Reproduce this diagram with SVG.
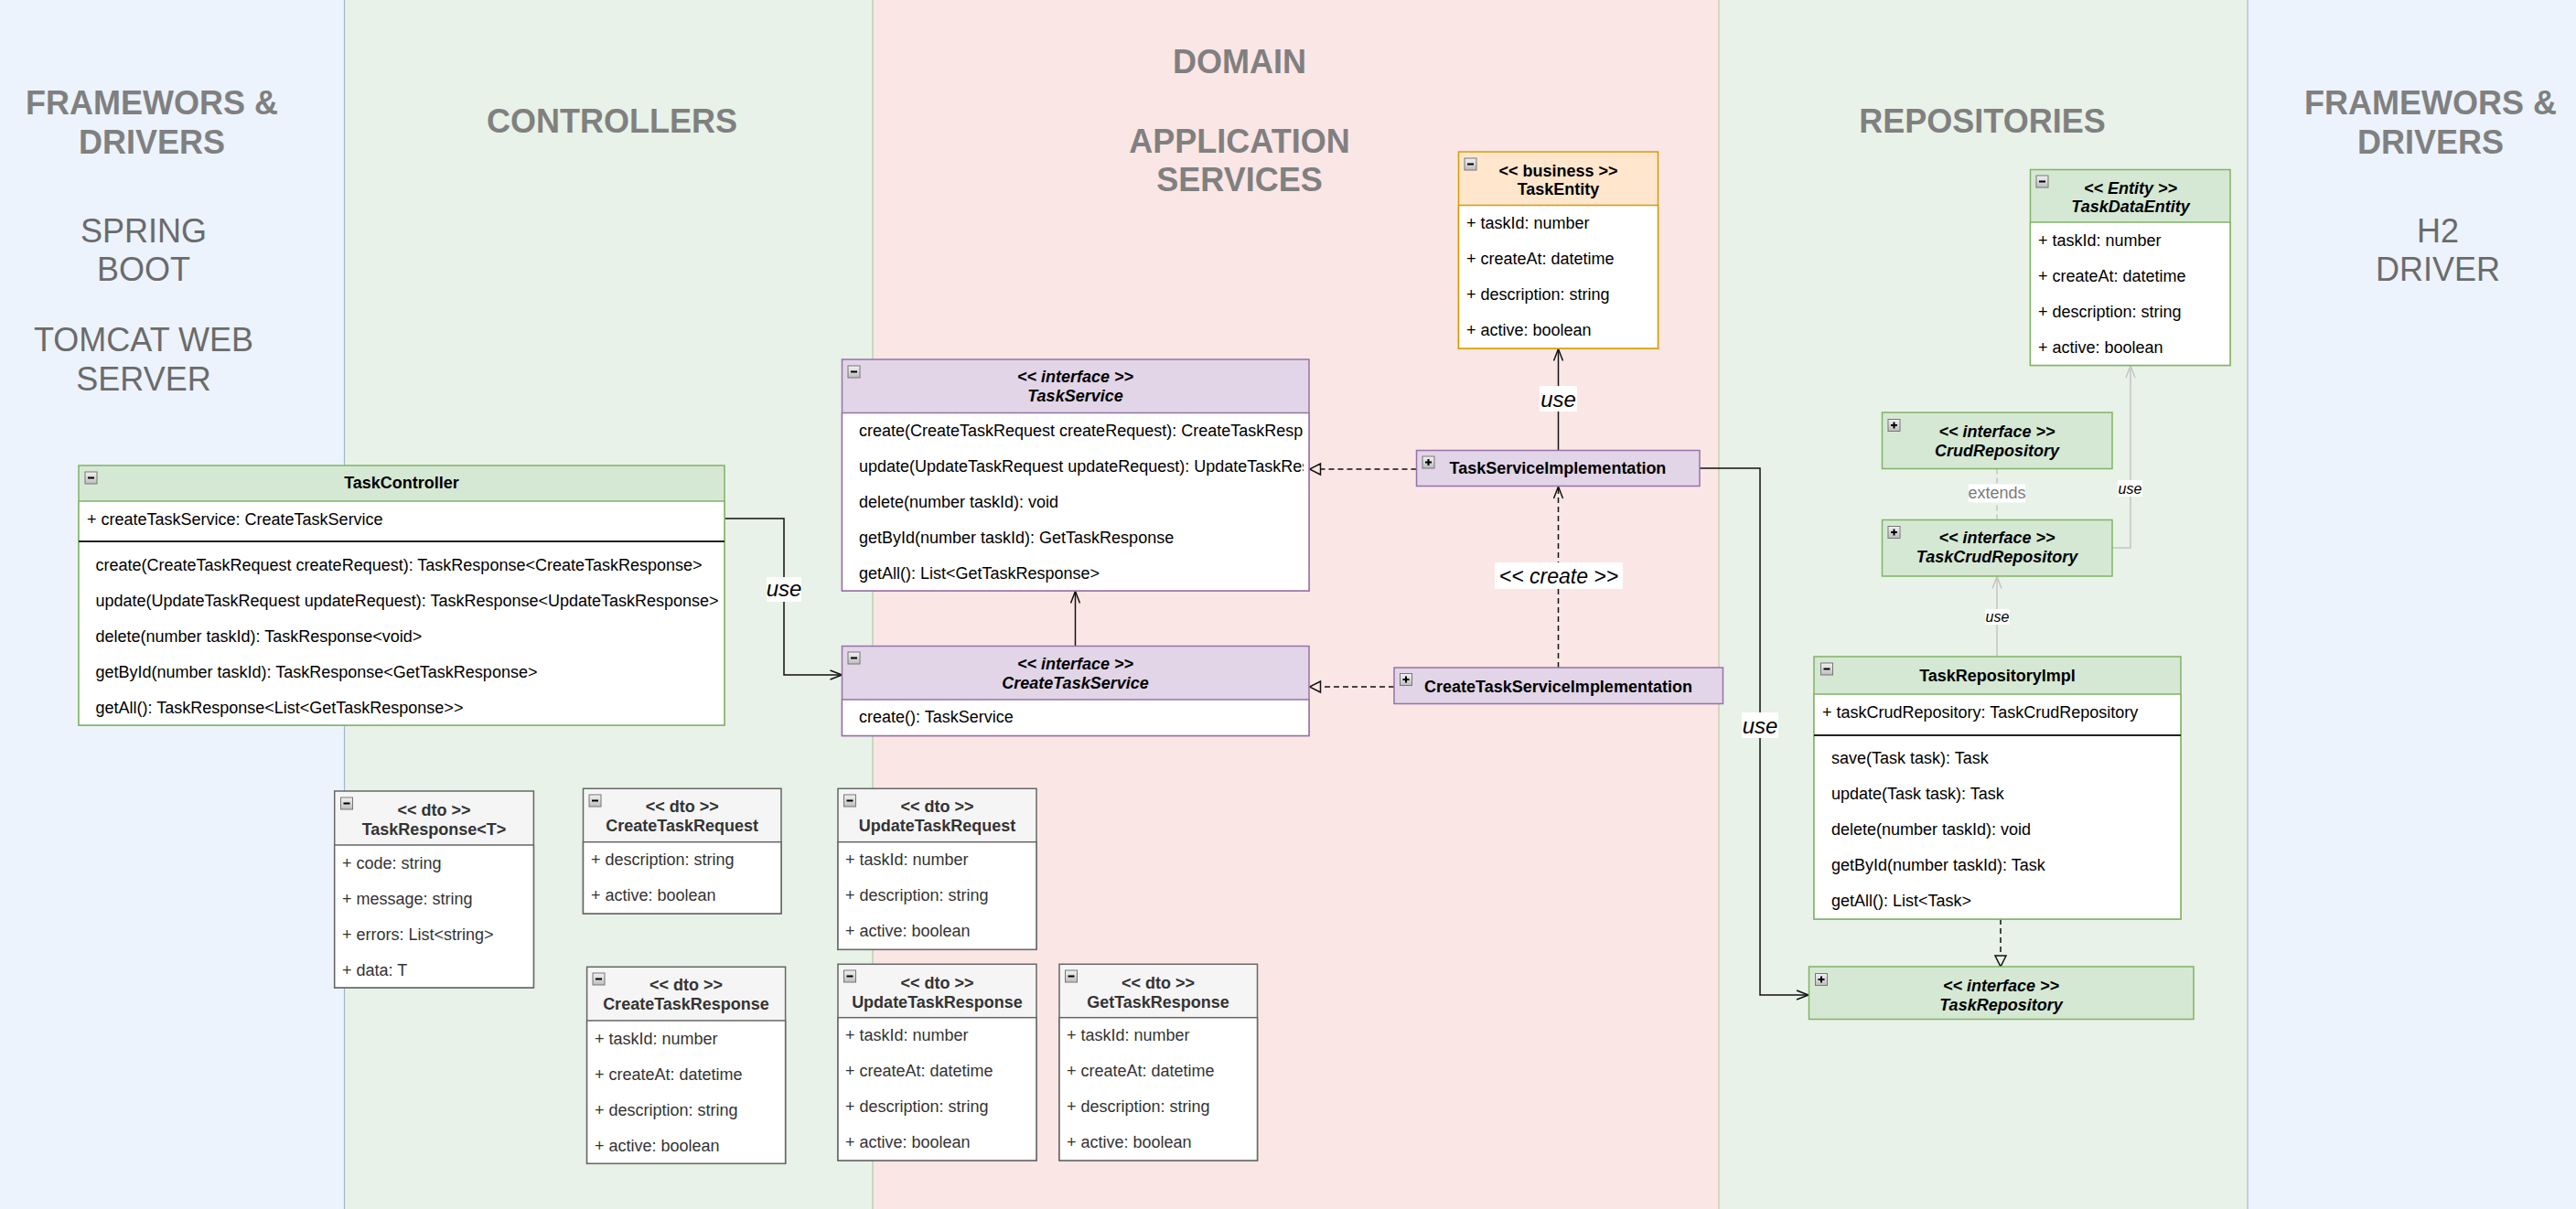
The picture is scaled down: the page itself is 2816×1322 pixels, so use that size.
<svg xmlns="http://www.w3.org/2000/svg" xmlns:xlink="http://www.w3.org/1999/xlink" width="2816" height="1322" viewBox="0 0 2816 1322">
<style>
text{font-family:"Liberation Sans",Arial,Helvetica,sans-serif;font-size:18px;fill:#000}
.hd{font-size:36px;font-weight:bold;fill:#808080;text-anchor:middle}
.hr{font-size:36px;fill:#6b6b6b;text-anchor:middle}
.c{text-anchor:middle}
.b{font-weight:bold}
.bi{font-weight:bold;font-style:italic}
.lbl{font-size:24px;font-style:italic;text-anchor:middle}
.lbs{font-size:16px;font-style:italic;text-anchor:middle}
.ext{font-size:18px;fill:#7a7a7a;text-anchor:middle}
.pu .h{fill:#e1d5e7;stroke:#9673a6;stroke-width:1.5}
.pu .w{fill:#fff;stroke:#9673a6;stroke-width:1.5}
.gr .h{fill:#d5e8d4;stroke:#82b366;stroke-width:1.5}
.gr .w{fill:#fff;stroke:#82b366;stroke-width:1.5}
.or .h{fill:#ffe6cc;stroke:#d79b00;stroke-width:1.5}
.or .w{fill:#fff;stroke:#d79b00;stroke-width:1.5}
.gy .h{fill:#f5f5f5;stroke:#666;stroke-width:1.5}
.gy .w{fill:#fff;stroke:#666;stroke-width:1.5}
.gy text{fill:#333}
.div{stroke:#222;stroke-width:1.8}
.ln{fill:none;stroke:#111;stroke-width:1.5}
.dash{stroke-dasharray:6 4}
.lg{fill:none;stroke:#c4c4c4;stroke-width:1.5}
.lb{fill:#fff}
</style>
<defs>
<linearGradient id="ig" x1="0" y1="0" x2="0" y2="1"><stop offset="0" stop-color="#f2f2f2"/><stop offset="1" stop-color="#bdbdbd"/></linearGradient>
<g id="icoM"><rect x="0" y="0" width="13" height="13" fill="url(#ig)" stroke="#777" stroke-width="1"/><line x1="3" y1="6.5" x2="10" y2="6.5" stroke="#000" stroke-width="2"/></g>
<g id="icoP"><rect x="0" y="0" width="13" height="13" fill="url(#ig)" stroke="#777" stroke-width="1"/><line x1="3" y1="6.5" x2="10" y2="6.5" stroke="#000" stroke-width="2"/><line x1="6.5" y1="3" x2="6.5" y2="10" stroke="#000" stroke-width="2"/></g>
<marker id="open" markerUnits="userSpaceOnUse" markerWidth="20" markerHeight="14" viewBox="-15 -7 17 14" refX="0" refY="0" orient="auto"><path d="M-13,-5 L0,0 L-13,5" fill="none" stroke="#111" stroke-width="1.5"/></marker>
<marker id="openLg" markerUnits="userSpaceOnUse" markerWidth="20" markerHeight="14" viewBox="-15 -7 17 14" refX="0" refY="0" orient="auto"><path d="M-13,-5 L0,0 L-13,5" fill="none" stroke="#c4c4c4" stroke-width="1.5"/></marker>
<marker id="tri" markerUnits="userSpaceOnUse" markerWidth="16" markerHeight="16" viewBox="-2 -8 16 16" refX="0" refY="0" orient="auto"><path d="M0,-6 L12,0 L0,6 Z" fill="none" stroke="#111" stroke-width="1.5"/></marker>
<clipPath id="clipTS"><rect x="920" y="452" width="505" height="195"/></clipPath>
</defs>

<g id="lanes">
<rect x="0" y="0" width="377" height="1322" fill="#ecf3fd"/>
<rect x="377" y="0" width="577" height="1322" fill="#e8f2e8"/>
<rect x="954" y="0" width="925" height="1322" fill="#fbe6e6"/>
<rect x="1879" y="0" width="578" height="1322" fill="#e8f2e8"/>
<rect x="2457" y="0" width="359" height="1322" fill="#ecf3fd"/>
<line x1="376.5" y1="0" x2="376.5" y2="1322" stroke="#9fb6cc" stroke-width="1.2"/>
<line x1="954" y1="0" x2="954" y2="1322" stroke="#b4c8a2" stroke-width="1.2"/>
<line x1="1879" y1="0" x2="1879" y2="1322" stroke="#c6c8a0" stroke-width="1.2"/>
<line x1="2457" y1="0" x2="2457" y2="1322" stroke="#a8bac9" stroke-width="1.2"/>
</g>

<g id="headings">
<text class="hd" x="166" y="125">FRAMEWORS &amp;</text>
<text class="hd" x="166" y="168">DRIVERS</text>
<text class="hr" x="157" y="265">SPRING</text>
<text class="hr" x="157" y="307">BOOT</text>
<text class="hr" x="157" y="384">TOMCAT WEB</text>
<text class="hr" x="157" y="427">SERVER</text>
<text class="hd" x="669" y="145">CONTROLLERS</text>
<text class="hd" x="1355" y="80">DOMAIN</text>
<text class="hd" x="1355" y="167">APPLICATION</text>
<text class="hd" x="1355" y="209">SERVICES</text>
<text class="hd" x="2167" y="145">REPOSITORIES</text>
<text class="hd" x="2657" y="125">FRAMEWORS &amp;</text>
<text class="hd" x="2657" y="168">DRIVERS</text>
<text class="hr" x="2665" y="265">H2</text>
<text class="hr" x="2665" y="307">DRIVER</text>
</g>

<g id="connectors">
<polyline class="ln" points="792,567 857,567 857,738 920.5,738" marker-end="url(#open)"/>
<line class="ln" x1="1175.5" y1="706.5" x2="1175.5" y2="646.5" marker-end="url(#open)"/>
<line class="ln dash" x1="1548.5" y1="513" x2="1443.5" y2="513" marker-end="url(#tri)"/>
<line class="ln dash" x1="1524" y1="751" x2="1443.5" y2="751" marker-end="url(#tri)"/>
<line class="ln dash" x1="1703.5" y1="730" x2="1703.5" y2="532" marker-end="url(#open)"/>
<line class="ln" x1="1703.5" y1="492.5" x2="1703.5" y2="381.5" marker-end="url(#open)"/>
<polyline class="ln" points="1858,512 1924,512 1924,1088 1977,1088" marker-end="url(#open)"/>
<line class="ln dash" x1="2187" y1="1005" x2="2187" y2="1045" marker-end="url(#tri)"/>
<line class="lg" x1="2183" y1="718" x2="2183" y2="630.5" marker-end="url(#openLg)"/>
<line class="lg dash" x1="2183" y1="512.5" x2="2183" y2="568"/>
<polyline class="lg" points="2309,599 2329,599 2329,400" marker-end="url(#openLg)"/>
<rect class="lb" x="838" y="631" width="38" height="27"/>
<text class="lbl" x="857" y="652">use</text>
<rect class="lb" x="1683" y="422" width="41" height="28"/>
<text class="lbl" x="1703.5" y="445">use</text>
<rect class="lb" x="1634" y="615" width="140" height="29"/>
<text class="lbl" x="1704" y="638" style="font-size:23px">&lt;&lt; create &gt;&gt;</text>
<rect class="lb" x="1904" y="779" width="40" height="28"/>
<text class="lbl" x="1924" y="802">use</text>
<rect class="lb" x="2170" y="666" width="27" height="17"/>
<text class="lbs" x="2183.5" y="680">use</text>
<rect class="lb" x="2315" y="525" width="27" height="18"/>
<text class="lbs" x="2328.5" y="540">use</text>
<rect class="lb" x="2152" y="529.5" width="62" height="20"/>
<text class="ext" x="2183" y="545">extends</text>
</g>

<g id="TaskController" class="gr">
<rect class="h" x="86" y="509" width="706" height="284"/>
<rect class="w" x="86" y="548" width="706" height="245"/>
<line class="div" x1="86" y1="592" x2="792" y2="592"/>
<use xlink:href="#icoM" x="93" y="516"/>
<text class="b c" x="439" y="534">TaskController</text>
<text x="95" y="574">+ createTaskService: CreateTaskService</text>
<text x="104.5" y="624">create(CreateTaskRequest createRequest): TaskResponse&lt;CreateTaskResponse&gt;</text>
<text x="104.5" y="663">update(UpdateTaskRequest updateRequest): TaskResponse&lt;UpdateTaskResponse&gt;</text>
<text x="104.5" y="702">delete(number taskId): TaskResponse&lt;void&gt;</text>
<text x="104.5" y="741">getById(number taskId): TaskResponse&lt;GetTaskResponse&gt;</text>
<text x="104.5" y="780">getAll(): TaskResponse&lt;List&lt;GetTaskResponse&gt;&gt;</text>
</g>

<g id="TaskService" class="pu">
<rect class="h" x="920.5" y="393" width="510.5" height="253"/>
<rect class="w" x="920.5" y="451.5" width="510.5" height="194.5"/>
<use xlink:href="#icoM" x="927" y="400"/>
<text class="bi c" x="1175.5" y="418">&lt;&lt; interface &gt;&gt;</text>
<text class="bi c" x="1175.5" y="439">TaskService</text>
<g clip-path="url(#clipTS)">
<text x="939" y="477">create(CreateTaskRequest createRequest): CreateTaskResp</text>
<text x="939" y="516">update(UpdateTaskRequest updateRequest): UpdateTaskRes</text>
</g>
<text x="939" y="555">delete(number taskId): void</text>
<text x="939" y="594">getById(number taskId): GetTaskResponse</text>
<text x="939" y="633">getAll(): List&lt;GetTaskResponse&gt;</text>
</g>

<g id="CreateTaskService" class="pu">
<rect class="h" x="920.5" y="706.5" width="510.5" height="98"/>
<rect class="w" x="920.5" y="765" width="510.5" height="39.5"/>
<use xlink:href="#icoM" x="927" y="713"/>
<text class="bi c" x="1175.5" y="732">&lt;&lt; interface &gt;&gt;</text>
<text class="bi c" x="1175.5" y="753">CreateTaskService</text>
<text x="939" y="790">create(): TaskService</text>
</g>

<g id="TaskServiceImplementation" class="pu">
<rect class="h" x="1548.5" y="492.5" width="309.5" height="39"/>
<use xlink:href="#icoP" x="1555" y="499"/>
<text class="b c" x="1703" y="518">TaskServiceImplementation</text>
</g>

<g id="CreateTaskServiceImplementation" class="pu">
<rect class="h" x="1524" y="730" width="359.5" height="39.5"/>
<use xlink:href="#icoP" x="1530.5" y="736.5"/>
<text class="b c" x="1703.5" y="756.5">CreateTaskServiceImplementation</text>
</g>

<g id="TaskEntity" class="or">
<rect class="h" x="1594.5" y="166" width="218" height="215"/>
<rect class="w" x="1594.5" y="224.5" width="218" height="156.5"/>
<use xlink:href="#icoM" x="1601" y="173"/>
<text class="b c" x="1703.5" y="192.5">&lt;&lt; business &gt;&gt;</text>
<text class="b c" x="1703.5" y="213">TaskEntity</text>
<text x="1603" y="250">+ taskId: number</text>
<text x="1603" y="289">+ createAt: datetime</text>
<text x="1603" y="328">+ description: string</text>
<text x="1603" y="367">+ active: boolean</text>
</g>

<g id="TaskDataEntity" class="gr">
<rect class="h" x="2219.5" y="185.5" width="218.5" height="214"/>
<rect class="w" x="2219.5" y="243" width="218.5" height="156.5"/>
<use xlink:href="#icoM" x="2226" y="192"/>
<text class="bi c" x="2329" y="211.5">&lt;&lt; Entity &gt;&gt;</text>
<text class="bi c" x="2329" y="232">TaskDataEntity</text>
<text x="2228" y="268.5">+ taskId: number</text>
<text x="2228" y="307.5">+ createAt: datetime</text>
<text x="2228" y="346.5">+ description: string</text>
<text x="2228" y="385.5">+ active: boolean</text>
</g>

<g id="CrudRepository" class="gr">
<rect class="h" x="2057.5" y="451" width="251.5" height="61.5"/>
<use xlink:href="#icoP" x="2064" y="458.5"/>
<text class="bi c" x="2183" y="477.5">&lt;&lt; interface &gt;&gt;</text>
<text class="bi c" x="2183" y="499">CrudRepository</text>
</g>

<g id="TaskCrudRepository" class="gr">
<rect class="h" x="2057.5" y="568.5" width="251.5" height="61.5"/>
<use xlink:href="#icoP" x="2064" y="575.5"/>
<text class="bi c" x="2183" y="593.5">&lt;&lt; interface &gt;&gt;</text>
<text class="bi c" x="2183" y="615">TaskCrudRepository</text>
</g>

<g id="TaskRepositoryImpl" class="gr">
<rect class="h" x="1983" y="718" width="401" height="287"/>
<rect class="w" x="1983" y="759" width="401" height="246"/>
<line class="div" x1="1983" y1="804" x2="2384" y2="804"/>
<use xlink:href="#icoM" x="1990.5" y="725"/>
<text class="b c" x="2183.5" y="745">TaskRepositoryImpl</text>
<text x="1992" y="785">+ taskCrudRepository: TaskCrudRepository</text>
<text x="2002" y="835">save(Task task): Task</text>
<text x="2002" y="874">update(Task task): Task</text>
<text x="2002" y="913">delete(number taskId): void</text>
<text x="2002" y="952">getById(number taskId): Task</text>
<text x="2002" y="991">getAll(): List&lt;Task&gt;</text>
</g>

<g id="TaskRepository" class="gr">
<rect class="h" x="1977.5" y="1057" width="420.5" height="57.5"/>
<use xlink:href="#icoP" x="1984.5" y="1064.5"/>
<text class="bi c" x="2187.5" y="1083.5">&lt;&lt; interface &gt;&gt;</text>
<text class="bi c" x="2187.5" y="1104.5">TaskRepository</text>
</g>

<g id="TaskResponse" class="gy">
<rect class="h" x="365.7" y="865" width="217.7" height="215"/>
<rect class="w" x="365.7" y="924" width="217.7" height="156"/>
<use xlink:href="#icoM" x="372.5" y="872"/>
<text class="b c" x="474.5" y="891.5">&lt;&lt; dto &gt;&gt;</text>
<text class="b c" x="474.5" y="912.5">TaskResponse&lt;T&gt;</text>
<text x="374" y="949.5">+ code: string</text>
<text x="374" y="988.5">+ message: string</text>
<text x="374" y="1027.5">+ errors: List&lt;string&gt;</text>
<text x="374" y="1066.5">+ data: T</text>
</g>

<g id="CreateTaskRequest" class="gy">
<rect class="h" x="637.5" y="862.3" width="216.5" height="136.7"/>
<rect class="w" x="637.5" y="920.7" width="216.5" height="78.3"/>
<use xlink:href="#icoM" x="644" y="869"/>
<text class="b c" x="745.7" y="888.3">&lt;&lt; dto &gt;&gt;</text>
<text class="b c" x="745.7" y="909">CreateTaskRequest</text>
<text x="646" y="946.2">+ description: string</text>
<text x="646" y="985.2">+ active: boolean</text>
</g>

<g id="UpdateTaskRequest" class="gy">
<rect class="h" x="916" y="862.3" width="217" height="176"/>
<rect class="w" x="916" y="920.7" width="217" height="117.6"/>
<use xlink:href="#icoM" x="922.5" y="869"/>
<text class="b c" x="1024.5" y="888.3">&lt;&lt; dto &gt;&gt;</text>
<text class="b c" x="1024.5" y="909">UpdateTaskRequest</text>
<text x="924" y="946.2">+ taskId: number</text>
<text x="924" y="985.2">+ description: string</text>
<text x="924" y="1024.2">+ active: boolean</text>
</g>

<g id="CreateTaskResponse" class="gy">
<rect class="h" x="641.6" y="1057.3" width="217" height="215"/>
<rect class="w" x="641.6" y="1116" width="217" height="156.3"/>
<use xlink:href="#icoM" x="648" y="1064"/>
<text class="b c" x="750" y="1083.3">&lt;&lt; dto &gt;&gt;</text>
<text class="b c" x="750" y="1104.3">CreateTaskResponse</text>
<text x="650" y="1141.5">+ taskId: number</text>
<text x="650" y="1180.5">+ createAt: datetime</text>
<text x="650" y="1219.5">+ description: string</text>
<text x="650" y="1258.5">+ active: boolean</text>
</g>

<g id="UpdateTaskResponse" class="gy">
<rect class="h" x="916" y="1054.3" width="217" height="214.7"/>
<rect class="w" x="916" y="1112.7" width="217" height="156.3"/>
<use xlink:href="#icoM" x="922.5" y="1061"/>
<text class="b c" x="1024.5" y="1080.7">&lt;&lt; dto &gt;&gt;</text>
<text class="b c" x="1024.5" y="1101.7">UpdateTaskResponse</text>
<text x="924" y="1138.2">+ taskId: number</text>
<text x="924" y="1177.2">+ createAt: datetime</text>
<text x="924" y="1216.2">+ description: string</text>
<text x="924" y="1255.2">+ active: boolean</text>
</g>

<g id="GetTaskResponse" class="gy">
<rect class="h" x="1158" y="1054.3" width="216.5" height="214.7"/>
<rect class="w" x="1158" y="1112.7" width="216.5" height="156.3"/>
<use xlink:href="#icoM" x="1164.5" y="1061"/>
<text class="b c" x="1266" y="1080.7">&lt;&lt; dto &gt;&gt;</text>
<text class="b c" x="1266" y="1101.7">GetTaskResponse</text>
<text x="1166" y="1138.2">+ taskId: number</text>
<text x="1166" y="1177.2">+ createAt: datetime</text>
<text x="1166" y="1216.2">+ description: string</text>
<text x="1166" y="1255.2">+ active: boolean</text>
</g>
</svg>
